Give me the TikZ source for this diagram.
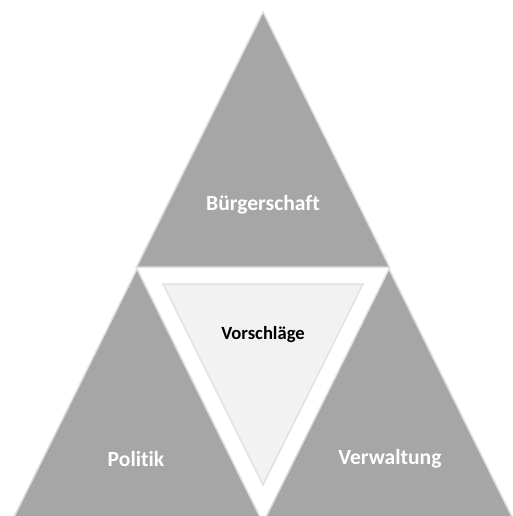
\documentclass[tikz,border=0pt]{standalone}
\usepackage{fontspec}
\setmainfont[Ligatures={NoCommon}]{Carlito}
\definecolor{tri}{HTML}{A6A6A6}
\definecolor{triedge}{HTML}{DEDEDE}
\definecolor{innerfill}{HTML}{F2F2F2}
\definecolor{inneredge}{HTML}{E2E2E2}
\tikzset{
  outertri/.style={fill=tri, draw=triedge, line width=1.5pt, line join=miter},
  innertri/.style={fill=innerfill, draw=inneredge, line width=1.5pt},
  whitelabel/.style={text=white, font=\fontsize{21.6}{24}\selectfont\bfseries},
  darklabel/.style={text=black, font=\fontsize{18.6}{21}\selectfont\bfseries}
}
\begin{document}
\begin{tikzpicture}[x=1pt,y=-1pt]
\useasboundingbox (0,0) rectangle (513,516);
\fill[white] (0,0) rectangle (513,516);
\begin{scope}
\clip (0,0) rectangle (513,516);
% top triangle
\draw[outertri] (263,12) -- (389.5,267) -- (136.5,267) -- cycle;
% left triangle
\draw[outertri] (137,269) -- (263.5,524) -- (10.5,524) -- cycle;
% right triangle
\draw[outertri] (389,269) -- (515.5,524) -- (262.5,524) -- cycle;
% inner triangle
\draw[innertri] (163,284) -- (363,284) -- (263,485) -- cycle;
\end{scope}
\node[whitelabel] (b) at (263,205) {Bürgerschaft};
\node[darklabel] (v) at (263,335) {Vorschläge};
\node[whitelabel] (p) at (136,459) {Politik};
\node[whitelabel] (w) at (390,459) {Verwaltung};
\end{tikzpicture}
\end{document}
